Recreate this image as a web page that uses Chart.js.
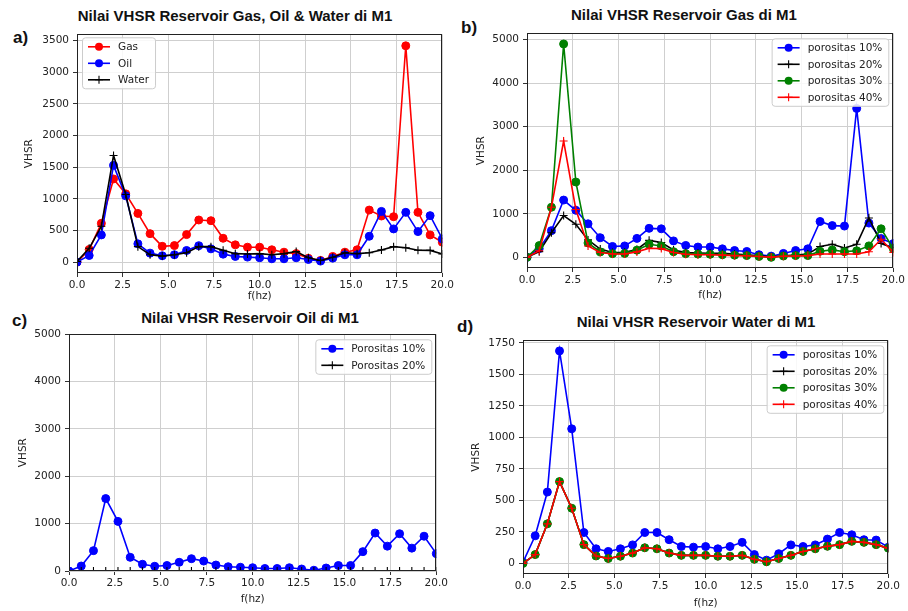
<!DOCTYPE html>
<html>
<head>
<meta charset="utf-8">
<script src="https://cdn.jsdelivr.net/npm/chart.js@4.4.1/dist/chart.umd.min.js"></script>
<style>
    body  { margin: 0; width: 908px; height: 611px; background: #fff; position: relative; overflow: hidden; }
    canvas { position: absolute; }
    .title { position: absolute; font: bold 15px "Liberation Sans", Arial, sans-serif; color: #111; white-space: nowrap; transform: translate(-50%, -50%); }
    .tag   { position: absolute; font: bold 17px "Liberation Sans", Arial, sans-serif; color: #111; transform: translate(0, -50%); }
</style>
</head>
<body>
<div class="tag" style="left:13px;top:38px">a)</div>
<div class="tag" style="left:461px;top:28px">b)</div>
<div class="tag" style="left:12px;top:321px">c)</div>
<div class="tag" style="left:457px;top:327px">d)</div>
<div class="title" style="left:235px;top:15px">Nilai VHSR Reservoir Gas, Oil &amp; Water di M1</div>
<div class="title" style="left:684px;top:14px">Nilai VHSR Reservoir Gas di M1</div>
<div class="title" style="left:250px;top:317px">Nilai VHSR Reservoir Oil di M1</div>
<div class="title" style="left:696px;top:321px">Nilai VHSR Reservoir Water di M1</div>

<script>
// ─── Data ─────────────────────────────────────────────────────────────────────

const freq = [0, 0.667, 1.333, 2.0, 2.667, 3.333, 4.0, 4.667, 5.333, 6.0, 6.667, 7.333, 8.0, 8.667, 9.333, 10.0,
              10.667, 11.333, 12.0, 12.667, 13.333, 14.0, 14.667, 15.333, 16.0, 16.667, 17.333, 18.0, 18.667, 19.333, 20.0];

const xTicks  = [0, 2.5, 5, 7.5, 10, 12.5, 15, 17.5, 20];
const yTicksA = [0, 500, 1000, 1500, 2000, 2500, 3000, 3500];
const yTicksB = [0, 1000, 2000, 3000, 4000, 5000];
const yTicksC = [0, 1000, 2000, 3000, 4000, 5000];
const yTicksD = [0, 250, 500, 750, 1000, 1250, 1500, 1750];

// a) reservoir types (porositas 10%)
const gasVhsr   = [0, 200, 613, 1315, 1080, 770, 450, 250, 262, 435, 666, 655, 377, 273, 236, 236,
                   195, 157, 135, 60, 27, 90, 157, 195, 823, 729, 718, 3420, 787, 430, 315];
const oilVhsr   = [0, 105, 430, 1530, 1048, 289, 142, 100, 116, 184, 260, 210, 126, 90, 79, 69,
                   53, 53, 69, 42, 16, 63, 116, 116, 409, 802, 525, 787, 483, 735, 367];
const waterVhsr = [10, 219, 566, 1686, 1068, 245, 116, 95, 116, 147, 245, 245, 188, 134, 129, 134,
                   116, 134, 167, 70, 26, 77, 147, 134, 147, 193, 245, 227, 188, 185, 129];

// b) gas reservoir by porosity
const gasPor20 = [0, 130, 565, 960, 760, 400, 190, 110, 115, 180, 390, 340, 170, 110, 100, 95,
                  90, 75, 60, 38, 15, 38, 55, 75, 248, 301, 215, 301, 904, 316, 220];
const gasPor30 = [0, 270, 1150, 4900, 1730, 330, 125, 85, 90, 165, 300, 262, 130, 85, 75, 70,
                  60, 50, 40, 20, 0, 30, 40, 40, 140, 170, 130, 150, 263, 655, 200];
const gasPor40 = [0, 150, 1150, 2670, 1100, 260, 110, 75, 75, 125, 210, 200, 110, 70, 60, 60,
                  50, 40, 35, 20, 5, 25, 30, 40, 75, 75, 75, 75, 128, 414, 113];

// c) oil reservoir by porosity
const oilPor20 = [0, 0, 0, 0, 0, 0, 0, 0, 0, 0, 0, 0, 0, 0, 0, 0,
                  0, 0, 0, 0, 0, 0, 0, 0, 0, 0, 0, 0, 0, 0, 0];

// d) water reservoir by porosity
const waterPor20 = [0, 70, 314, 649, 438, 149, 59, 39, 57, 82, 124, 116, 82, 64, 64, 64,
                    57, 57, 64, 33, 13, 39, 64, 95, 116, 136, 149, 175, 167, 149, 121];
const waterPor30 = [0, 70, 314, 649, 438, 149, 59, 39, 57, 82, 124, 116, 82, 64, 64, 64,
                    57, 57, 64, 33, 13, 39, 64, 95, 116, 136, 149, 175, 167, 149, 121];
const waterPor40 = [0, 70, 314, 649, 438, 149, 59, 39, 57, 82, 124, 116, 82, 64, 64, 64,
                    57, 57, 64, 33, 13, 39, 64, 95, 116, 136, 149, 175, 167, 149, 121];

// ─── Styling helpers ──────────────────────────────────────────────────────────

const TEXT  = '#222';
const FONT  = { family: '"DejaVu Sans", sans-serif', size: 10.5 };
const GRID  = '#cfcfcf';

function series(label, values, color, marker) {
    const isDot = marker === 'o';
    return {
        label,
        data: values.map((v, i) => ({ x: freq[i], y: v })),
        borderColor:          color,
        backgroundColor:      color,
        borderWidth:          1.6,
        tension:              0,
        fill:                 false,
        pointStyle:           isDot ? 'circle' : 'cross',
        pointRadius:          isDot ? 4 : 4,
        pointBorderWidth:     isDot ? 1 : 1.1,
        pointBackgroundColor: color,
        pointBorderColor:     color,
    };
}

// Draws the axes frame and a matplotlib-like boxed legend inside the plot
const frameAndLegend = {
    id: 'frameAndLegend',
    afterDatasetsDraw(chart, args, opts) {
        const { ctx, chartArea: a } = chart;
        ctx.save();
        ctx.strokeStyle = '#222';
        ctx.lineWidth = 1;
        ctx.strokeRect(Math.round(a.left) + 0.5, Math.round(a.top) + 0.5,
                       Math.round(a.right - a.left) - 1, Math.round(a.bottom - a.top) - 1);

        const items = chart.data.datasets;
        ctx.font = `${FONT.size}px ${FONT.family}`;
        const textW = Math.max(...items.map(d => ctx.measureText(d.label).width));
        const rowH = 16.5;
        const w = 6 + 22 + 8 + textW + 6;
        const h = 18 + (items.length - 1) * rowH;
        const x = opts.corner === 'left' ? a.left + 5 : a.right - 5 - w;
        const y = a.top + opts.top;

        ctx.fillStyle = 'rgba(255,255,255,0.85)';
        ctx.strokeStyle = '#cccccc';
        ctx.beginPath();
        ctx.roundRect(x + 0.5, y + 0.5, w, h, 3);
        ctx.fill();
        ctx.stroke();

        items.forEach((d, i) => {
            const cy = y + 9.5 + i * rowH;
            ctx.strokeStyle = d.borderColor;
            ctx.fillStyle = d.borderColor;
            ctx.lineWidth = 1.6;
            ctx.beginPath();
            ctx.moveTo(x + 6, cy);
            ctx.lineTo(x + 28, cy);
            ctx.stroke();
            const mx = x + 17;
            if (d.pointStyle === 'circle') {
                ctx.beginPath();
                ctx.arc(mx, cy, 4, 0, Math.PI * 2);
                ctx.fill();
            } else {
                ctx.lineWidth = 1.1;
                ctx.beginPath();
                ctx.moveTo(mx - 4, cy); ctx.lineTo(mx + 4, cy);
                ctx.moveTo(mx, cy - 4); ctx.lineTo(mx, cy + 4);
                ctx.stroke();
            }
            ctx.fillStyle = TEXT;
            ctx.textBaseline = 'middle';
            ctx.fillText(d.label, x + 36, cy + 0.5);
        });
        ctx.restore();
    },
};

// ─── Panel builder ────────────────────────────────────────────────────────────

function makePanel(g, yRange, yTicks, datasets, legend) {
    const padT = 8, padR = 12;
    const half = FONT.size * 1.2 / 2;
    const left   = Math.round(g.yTitleX - half);
    const top    = g.t - padT;
    const bottom = Math.round(g.xTitleY + half);

    const canvas = document.createElement('canvas');
    canvas.width  = g.r + padR - left;
    canvas.height = bottom - top;
    canvas.style.left   = left + 'px';
    canvas.style.top    = top + 'px';
    canvas.style.width  = canvas.width + 'px';
    canvas.style.height = canvas.height + 'px';
    document.body.appendChild(canvas);

    // Later series sit on top, as in the reference
    datasets.forEach((d, i) => { d.order = datasets.length - i; });

    const axisTitle = text => ({ display: true, text, color: TEXT, font: FONT, padding: 0 });

    new Chart(canvas, {
        type: 'line',
        data: { datasets },
        options: {
            responsive: false,
            animation:  false,
            layout: { padding: { left: 0, top: padT, right: padR, bottom: 0 } },
            plugins: {
                legend:  { display: false },
                tooltip: { enabled: false },
                frameAndLegend: legend,
            },
            scales: {
                x: {
                    type: 'linear', min: 0, max: 20,
                    afterBuildTicks: s => { s.ticks = xTicks.map(v => ({ value: v })); },
                    afterFit: s => { s.height = bottom - g.b; },
                    ticks:  { color: TEXT, font: FONT, padding: 2, maxRotation: 0, autoSkip: false,
                              callback: v => Number(v).toFixed(1) },
                    grid:   { color: GRID, tickColor: '#333', tickLength: 4 },
                    border: { display: false },
                    title:  axisTitle('f(hz)'),
                },
                y: {
                    type: 'linear', min: yRange[0], max: yRange[1],
                    afterBuildTicks: s => { s.ticks = yTicks.map(v => ({ value: v })); },
                    afterFit: s => { s.width = g.l - left; },
                    ticks:  { color: TEXT, font: FONT, padding: 4, autoSkip: false,
                              callback: v => String(v) },
                    grid:   { color: GRID, tickColor: '#333', tickLength: 4 },
                    border: { display: false },
                    title:  axisTitle('VHSR'),
                },
            },
        },
        plugins: [frameAndLegend],
    });
}

// ─── Panels ───────────────────────────────────────────────────────────────────

makePanel({ l: 77, t: 32, r: 444, b: 273, yTitleX: 29, xTitleY: 297 }, [-172, 3602], yTicksA, [
    series('Gas',   gasVhsr,   '#ff0000', 'o'),
    series('Oil',   oilVhsr,   '#0000ff', 'o'),
    series('Water', waterVhsr, '#000000', '+'),
], { corner: 'left', top: 3 });

makePanel({ l: 527, t: 31, r: 895, b: 268, yTitleX: 481, xTitleY: 296 }, [-245, 5145], yTicksB, [
    series('porositas 10%', gasVhsr,  '#0000ff', 'o'),
    series('porositas 20%', gasPor20, '#000000', '+'),
    series('porositas 30%', gasPor30, '#008000', 'o'),
    series('porositas 40%', gasPor40, '#ff0000', '+'),
], { corner: 'right', top: 5 });

makePanel({ l: 69, t: 332, r: 438, b: 571, yTitleX: 23, xTitleY: 600 }, [0, 5000], yTicksC, [
    series('Porositas 10%', oilVhsr,  '#0000ff', 'o'),
    series('Porositas 20%', oilPor20, '#000000', '+'),
], { corner: 'right', top: 5 });

makePanel({ l: 523, t: 338, r: 890, b: 574, yTitleX: 476, xTitleY: 604 }, [-84, 1770], yTicksD, [
    series('porositas 10%', waterVhsr,  '#0000ff', 'o'),
    series('porositas 20%', waterPor20, '#000000', '+'),
    series('porositas 30%', waterPor30, '#008000', 'o'),
    series('porositas 40%', waterPor40, '#ff0000', '+'),
], { corner: 'right', top: 5 });
</script>
</body>
</html>
